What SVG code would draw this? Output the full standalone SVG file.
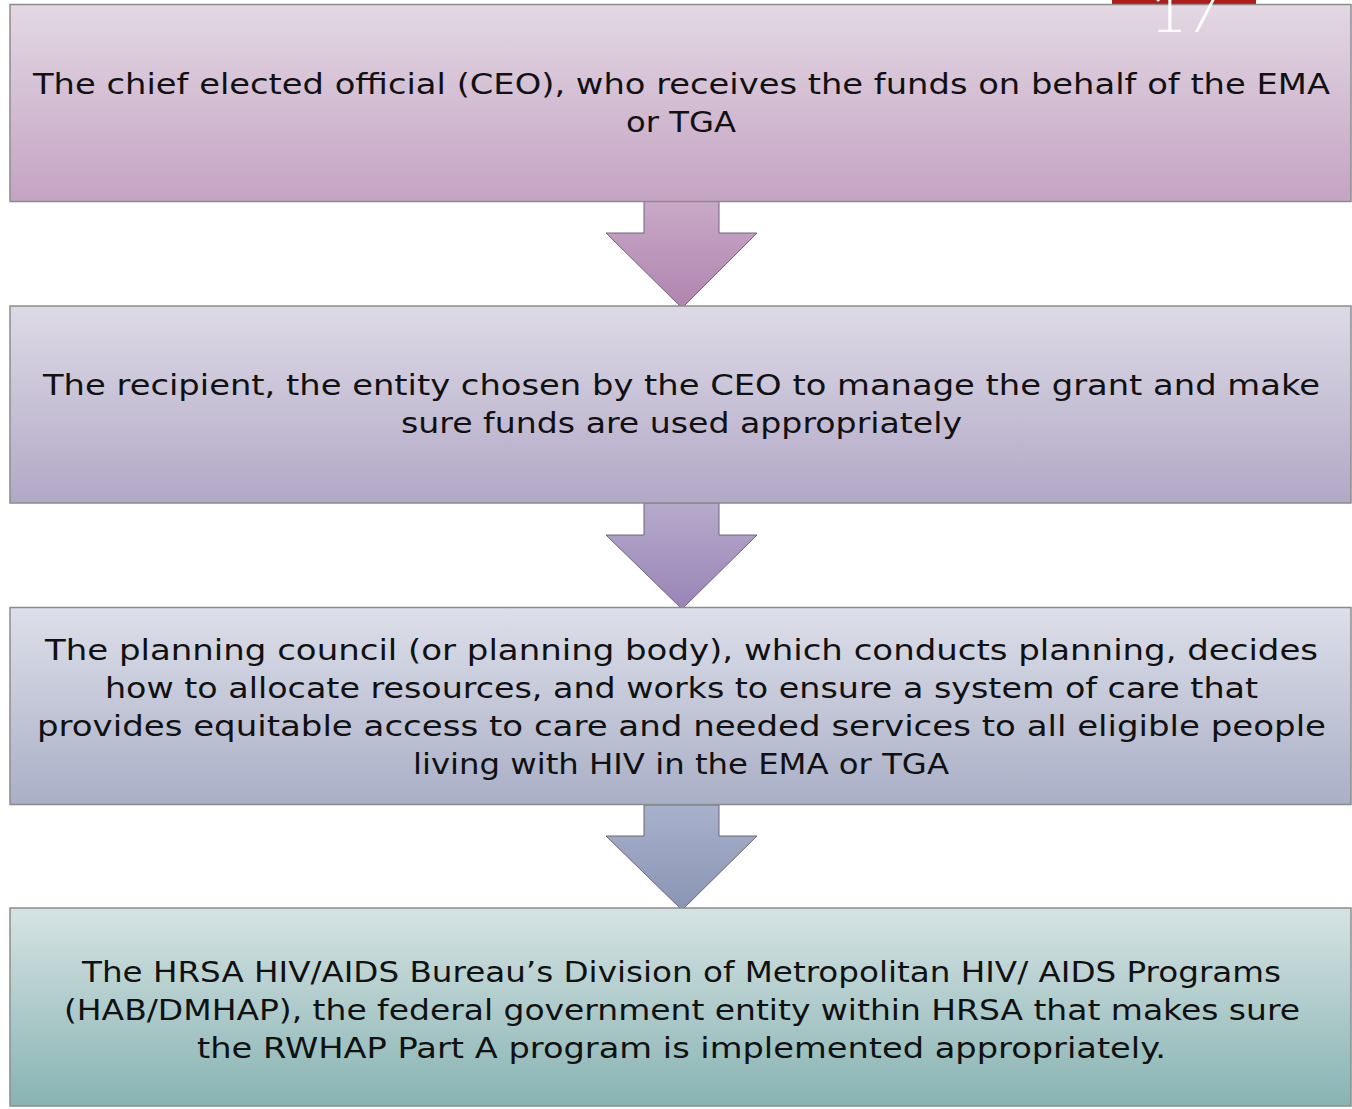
<svg xmlns="http://www.w3.org/2000/svg" width="1352" height="1109" viewBox="0 0 1352 1109">
<defs>
<linearGradient id="g1" x1="0" y1="0" x2="0" y2="1"><stop offset="0" stop-color="#e3d8e3"/><stop offset="1" stop-color="#c4a3c3"/></linearGradient>
<linearGradient id="g2" x1="0" y1="0" x2="0" y2="1"><stop offset="0" stop-color="#dddae6"/><stop offset="1" stop-color="#b2a8c6"/></linearGradient>
<linearGradient id="g3" x1="0" y1="0" x2="0" y2="1"><stop offset="0" stop-color="#dddfe9"/><stop offset="1" stop-color="#a9afc6"/></linearGradient>
<linearGradient id="g4" x1="0" y1="0" x2="0" y2="1"><stop offset="0" stop-color="#d6e3e3"/><stop offset="1" stop-color="#88b3b3"/></linearGradient>
<linearGradient id="a1" x1="0" y1="0" x2="0" y2="1"><stop offset="0" stop-color="#c9a9c8"/><stop offset="1" stop-color="#b084ae"/></linearGradient>
<linearGradient id="a2" x1="0" y1="0" x2="0" y2="1"><stop offset="0" stop-color="#b7aacc"/><stop offset="1" stop-color="#9884b6"/></linearGradient>
<linearGradient id="a3" x1="0" y1="0" x2="0" y2="1"><stop offset="0" stop-color="#a8b1cc"/><stop offset="1" stop-color="#8a95b4"/></linearGradient>
</defs>
<style>
.box{stroke:#8c8c8c;stroke-width:1.5}
.arr{stroke:#6e6478;stroke-width:1}
.t{font-family:"DejaVu Sans","Liberation Sans",sans-serif;font-size:27.5px;fill:#111;text-anchor:middle}
</style>
<rect x="0" y="0" width="1352" height="1109" fill="#ffffff"/>
<rect x="1112" y="0" width="144" height="5" fill="#b01c1c"/>
<g id="connectors">
<polygon class="arr" fill="url(#a1)" points="644,201 719,201 719,233 757,233 682,308 606,233 644,233"/>
<polygon class="arr" fill="url(#a2)" points="644,503 719,503 719,535 757,535 682,609 606,535 644,535"/>
<polygon class="arr" fill="url(#a3)" points="644,805 719,805 719,836 757,836 682,910 606,836 644,836"/>
</g>
<g id="node1">
<rect class="box" x="10" y="4.5" width="1341" height="197" fill="url(#g1)"/>
<text class="t" x="681.5" y="94" textLength="1297" lengthAdjust="spacingAndGlyphs">The chief elected official (CEO), who receives the funds on behalf of the EMA</text>
<text class="t" x="681" y="132" textLength="110" lengthAdjust="spacingAndGlyphs">or TGA</text>
</g>
<g id="node2">
<rect class="box" x="10" y="306" width="1341" height="197" fill="url(#g2)"/>
<text class="t" x="681.5" y="395" textLength="1277" lengthAdjust="spacingAndGlyphs">The recipient, the entity chosen by the CEO to manage the grant and make</text>
<text class="t" x="681.5" y="433" textLength="561" lengthAdjust="spacingAndGlyphs">sure funds are used appropriately</text>
</g>
<g id="node3">
<rect class="box" x="10" y="607.5" width="1341" height="197" fill="url(#g3)"/>
<text class="t" x="681.5" y="660" textLength="1273" lengthAdjust="spacingAndGlyphs">The planning council (or planning body), which conducts planning, decides</text>
<text class="t" x="681.5" y="698" textLength="1153" lengthAdjust="spacingAndGlyphs">how to allocate resources, and works to ensure a system of care that</text>
<text class="t" x="681.5" y="736" textLength="1289" lengthAdjust="spacingAndGlyphs">provides equitable access to care and needed services to all eligible people</text>
<text class="t" x="681" y="774" textLength="536" lengthAdjust="spacingAndGlyphs">living with HIV in the EMA or TGA</text>
</g>
<g id="node4">
<rect class="box" x="10" y="908" width="1341" height="198" fill="url(#g4)"/>
<text class="t" x="681.5" y="982" textLength="1199" lengthAdjust="spacingAndGlyphs">The HRSA HIV/AIDS Bureau’s Division of Metropolitan HIV/ AIDS Programs</text>
<text class="t" x="682" y="1020" textLength="1236" lengthAdjust="spacingAndGlyphs">(HAB/DMHAP), the federal government entity within HRSA that makes sure</text>
<text class="t" x="681.5" y="1058" textLength="969" lengthAdjust="spacingAndGlyphs">the RWHAP Part A program is implemented appropriately.</text>
</g>
<text x="1150" y="32" font-family="Lato,'Open Sans',sans-serif" font-weight="300" font-size="62" fill="#ffffff">17</text>
</svg>
